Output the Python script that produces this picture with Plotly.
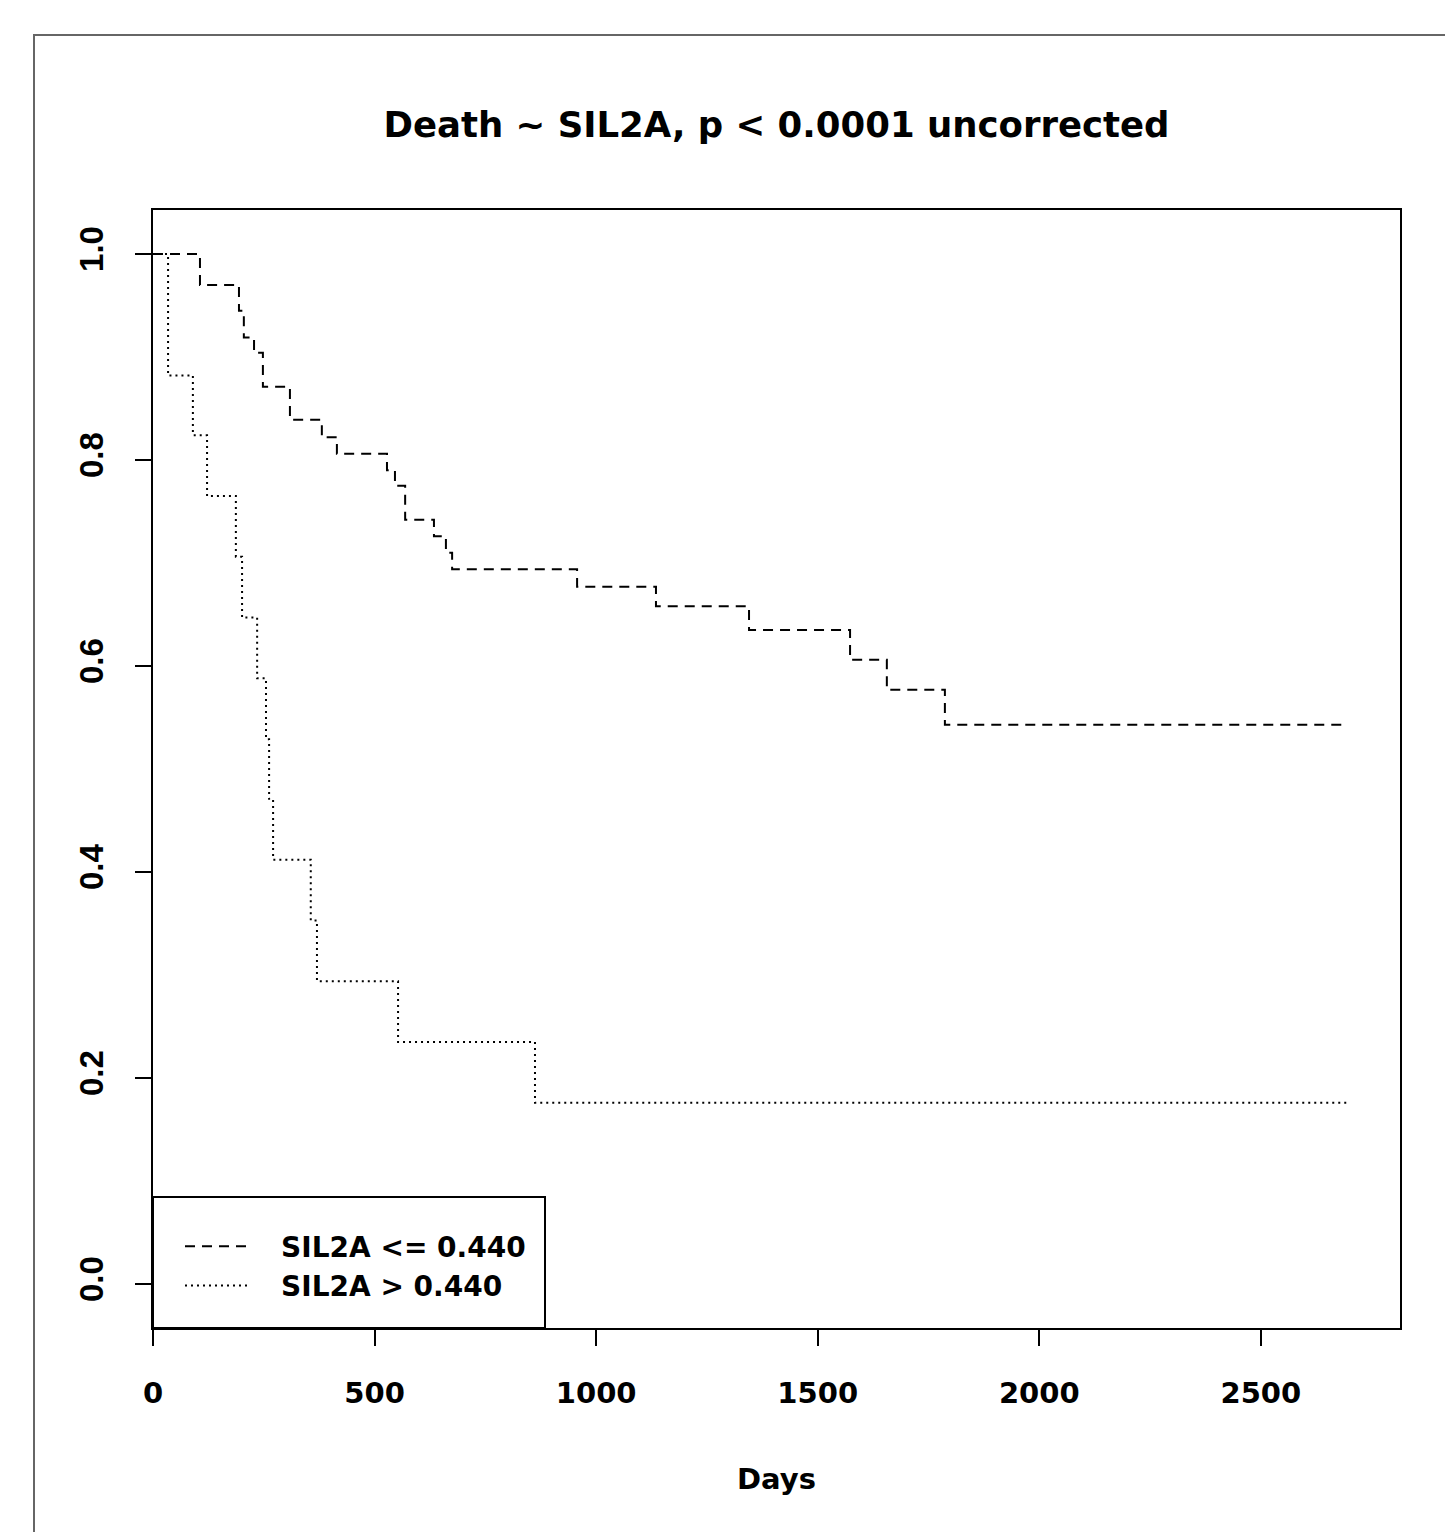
import plotly.graph_objects as go

# Kaplan-Meier step data
low_days = [0, 106, 194, 205, 228, 248, 309, 381, 415, 528, 546, 569, 634, 661, 675, 957, 1135, 1345, 1573, 1656, 1787, 2692]
low_surv = [1.0, 0.970, 0.945, 0.919, 0.904, 0.871, 0.839, 0.822, 0.806, 0.790, 0.775, 0.742, 0.726, 0.710, 0.694, 0.677, 0.658, 0.635, 0.606, 0.577, 0.543, 0.543]

high_days = [0, 34, 90, 122, 187, 201, 235, 255, 262, 271, 356, 370, 553, 862, 2694]
high_surv = [1.0, 0.882, 0.824, 0.765, 0.706, 0.647, 0.588, 0.529, 0.471, 0.412, 0.353, 0.294, 0.235, 0.176, 0.176]

series_names = ["SIL2A <= 0.440", "SIL2A > 0.440"]
x_ticks = [0, 500, 1000, 1500, 2000, 2500]
y_ticks = [0.0, 0.2, 0.4, 0.6, 0.8, 1.0]

FONT = "Liberation Sans, Arial, sans-serif"
WIDE = "DejaVu Sans, Verdana, sans-serif"
PAD = "\u00a0\u00a0\u2009"

fig = go.Figure()
fig.add_trace(go.Scatter(x=low_days, y=low_surv, mode="lines", line_shape="hv",
                         name=f"<b>{PAD}{series_names[0]}</b>",
                         line=dict(color="black", width=2, dash="10px,7px")))
fig.add_trace(go.Scatter(x=high_days, y=high_surv, mode="lines", line_shape="hv",
                         name=f"<b>{PAD}{series_names[1]}</b>",
                         line=dict(color="black", width=2, dash="2px,4px")))

fig.update_layout(
    width=1445, height=1532,
    margin=dict(l=153, r=45, t=210, b=204),
    paper_bgcolor="white", plot_bgcolor="white",
    font=dict(family=FONT, color="black"),
    title=dict(text="<b>Death ~ SIL2A, p < 0.0001 uncorrected</b>",
               x=0.5, xref="paper", xanchor="center",
               y=1 - 125 / 1532, yanchor="middle",
               font=dict(size=35.5, family=WIDE, color="black")),
    showlegend=True,
    legend=dict(x=(180 - 153) / 1247, y=0.0555, xanchor="left", yanchor="middle",
                bgcolor="rgba(0,0,0,0)", borderwidth=0,
                font=dict(size=28, family=WIDE, color="black"),
                itemwidth=66, tracegroupgap=0),
)

fig.update_xaxes(range=[0, 2814], tickvals=x_ticks,
                 ticktext=[f"<b>{v}</b>" for v in x_ticks],
                 ticks="outside", ticklen=16, tickwidth=2, tickcolor="black",
                 showline=True, linewidth=2, linecolor="black", mirror=True,
                 showgrid=False, zeroline=False,
                 tickfont=dict(size=29, family=WIDE, color="black"),
                 ticklabelstandoff=22,
                 title=dict(text="<b>Days</b>", standoff=60,
                            font=dict(size=29, family=WIDE, color="black")))
fig.update_yaxes(range=[-0.0427, 1.0427], tickvals=y_ticks,
                 ticktext=[f"<b>{v:.1f}</b>" for v in y_ticks],
                 tickangle=-90,
                 ticks="outside", ticklen=16, tickwidth=2, tickcolor="black",
                 showline=True, linewidth=2, linecolor="black", mirror=True,
                 showgrid=False, zeroline=False,
                 tickfont=dict(size=33, family=FONT, color="black"),
                 ticklabelstandoff=19)

# legend box
fig.add_shape(type="rect", xref="paper", yref="paper",
              x0=0, x1=(545 - 153) / 1247, y0=0, y1=(1328 - 1197) / 1118,
              line=dict(color="black", width=2), fillcolor="white", layer="below")
# outer frame
fig.add_shape(type="rect", xref="paper", yref="paper",
              x0=(34 - 153) / 1247, x1=1.2, y0=-0.3, y1=1 + (210 - 35) / 1118,
              line=dict(color="#666666", width=2), fillcolor="rgba(0,0,0,0)")

fig.write_html("out.html")
